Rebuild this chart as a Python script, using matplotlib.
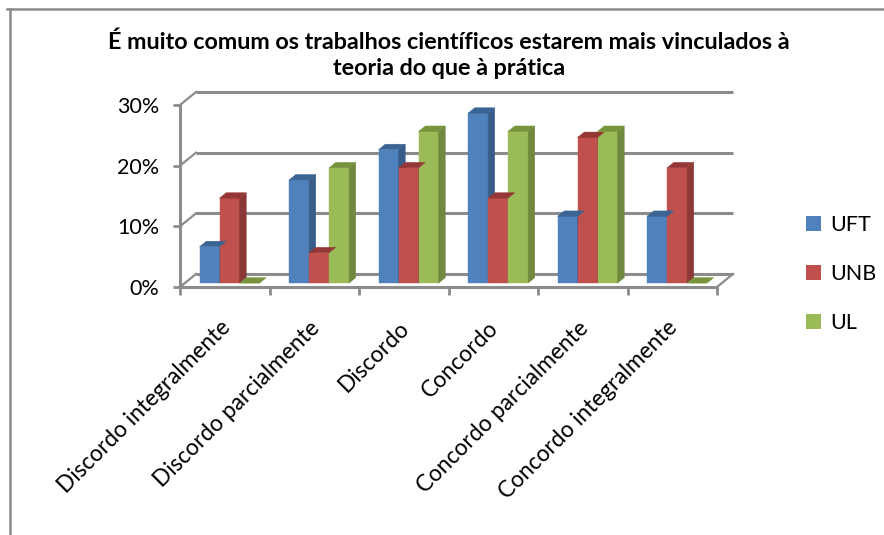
import numpy as np
import matplotlib
matplotlib.use("Agg")
import matplotlib.pyplot as plt
from matplotlib.patches import Polygon, Patch
from matplotlib.lines import Line2D
from matplotlib.transforms import ScaledTranslation

plt.rcParams['font.family'] = ['Lato', 'DejaVu Sans']

# dados
categorias = ['Discordo integralmente', 'Discordo parcialmente', 'Discordo',
              'Concordo', 'Concordo parcialmente', 'Concordo integralmente']
series = ['UFT', 'UNB', 'UL']
uft = [0.06, 0.17, 0.22, 0.28, 0.11, 0.11]
unb = [0.14, 0.05, 0.19, 0.14, 0.24, 0.19]
ul = [0.00, 0.19, 0.25, 0.25, 0.25, 0.00]
yticks = [0, 0.10, 0.20, 0.30]
ytick_labels = ['0%', '10%', '20%', '30%']
titulo = 'É muito comum os trabalhos científicos estarem mais vinculados à\nteoria do que à prática'

# cores (frente, lado, topo)
cores = {
    'UFT': ('#4F81BD', '#385D8A', '#3A6494'),
    'UNB': ('#C0504D', '#8C3836', '#953735'),
    'UL': ('#9BBB59', '#71893F', '#77933C'),
}
grid_c = '#8C8C8C'

W, H = 884, 535
fig = plt.figure(figsize=(W / 100, H / 100), dpi=100)
# plano da frente do eixo
ax = fig.add_axes([180 / W, 1 - 287 / H, 537 / W, 182 / H])
ax.set_xlim(0, 6)
ax.set_ylim(0, 0.30)

# profundidade 3D em pixels -> unidades de dados
px_x = 537 / 6.0
px_y = 182 / 0.30
DEPTH_X, DEPTH_Y = 16, 13


def off(d):
    return DEPTH_X * d / px_x, DEPTH_Y * d / px_y


bx, by = off(1.0)

# paredes: grade de fundo e diagonais da parede esquerda
for g in yticks:
    ax.plot([bx, 6 + bx], [g + by, g + by], color=grid_c, lw=2.2,
            clip_on=False, zorder=1, solid_capstyle='butt')
    ax.plot([0, bx], [g, g + by], color=grid_c, lw=1.6, clip_on=False, zorder=1)
# chao, lado direito
ax.plot([6, 6 + bx], [0, by], color=grid_c, lw=1.6, clip_on=False, zorder=1)

# barras
w = 0.2235
f0x, f0y = off(0.30)
dx, dy = off(0.42)
valores = [uft, unb, ul]
xs = np.arange(len(categorias)) + 0.5
for i, (nome, vals) in enumerate(zip(series, valores)):
    front, side, top = cores[nome]
    xc = xs + (i - 1) * w + f0x
    ax.bar(xc, vals, width=w, bottom=f0y, color=front, zorder=3,
           edgecolor=front, linewidth=0.3)
    for x, v in zip(xc, vals):
        l, r = x - w / 2, x + w / 2
        b, t = f0y, f0y + v
        if v > 0:
            ax.add_patch(Polygon([(r, b), (r + dx, b + dy), (r + dx, t + dy), (r, t)],
                                 closed=True, facecolor=side, edgecolor=side,
                                 lw=0.3, zorder=3, clip_on=False))
        ax.add_patch(Polygon([(l, t), (l + dx, t + dy), (r + dx, t + dy), (r, t)],
                             closed=True, facecolor=top, edgecolor=top,
                             lw=0.3, zorder=4, clip_on=False))

# eixos
for s in ['top', 'right']:
    ax.spines[s].set_visible(False)
for s in ['left', 'bottom']:
    ax.spines[s].set_color(grid_c)
    ax.spines[s].set_linewidth(2.2)
ax.set_facecolor('none')

ax.set_yticks(yticks, ytick_labels)
ax.tick_params(axis='y', length=5, width=2, color=grid_c, pad=10,
               labelsize=15.5)
ax.set_xticks(np.arange(0, 7))
ax.set_xticklabels([])
ax.tick_params(axis='x', which='major', length=6, width=2, color=grid_c)
ax.set_xticks(xs, categorias, minor=True)
ax.tick_params(axis='x', which='minor', length=0, pad=27, labelsize=16.3)
for lbl in ax.get_xticklabels(minor=True):
    lbl.set_rotation(45)
    lbl.set_ha('right')
    lbl.set_va('center')
    lbl.set_rotation_mode('anchor')
    lbl.set_transform(lbl.get_transform() + ScaledTranslation(0.02, 0, fig.dpi_scale_trans))

# titulo
fig.text(449 / W, 1 - 55 / H, titulo, ha='center', va='center', fontsize=16.8,
         fontweight='bold', linespacing=1.3)

# legenda
handles = [Patch(facecolor=cores[n][0], edgecolor='none') for n in series]
fig.legend(handles, series, loc='center left', bbox_to_anchor=(787 / W, 1 - 274 / H),
           frameon=False, fontsize=15.5, handlelength=0.7, handleheight=0.7,
           handletextpad=0.4, labelspacing=1.35)

# moldura
fig.add_artist(Line2D([7 / W, 1], [1 - 9 / H, 1 - 9 / H], color='#8A8A8A', lw=1.8))
fig.add_artist(Line2D([10 / W, 10 / W], [0, 1 - 9 / H], color='#8A8A8A', lw=1.8))

fig.savefig('out.png', dpi=100)
